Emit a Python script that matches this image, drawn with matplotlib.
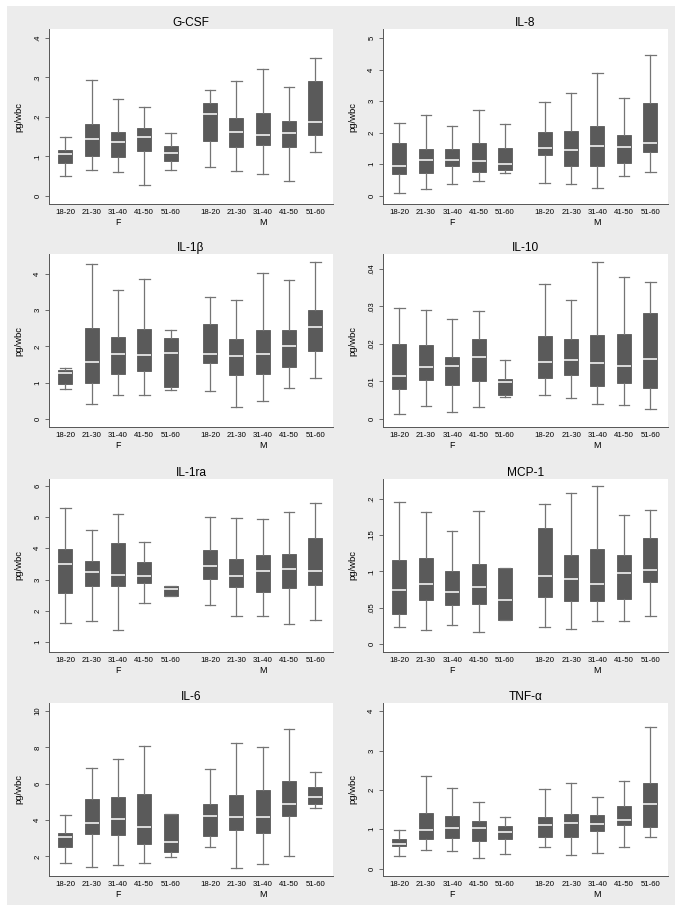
import matplotlib
matplotlib.use("Agg")
import matplotlib.pyplot as plt
from matplotlib.patches import Rectangle

plt.rcParams['font.family'] = ['Liberation Sans', 'DejaVu Sans']

AGE_GROUPS = ["18-20", "21-30", "31-40", "41-50", "51-60"]
SEXES = ["F", "M"]

# rows: lower whisker, Q1, median, Q3, upper whisker
# order: F 18-20 .. F 51-60, M 18-20 .. M 51-60
G_CSF = [[.050, .082, .107, .116, .148], [.064, .102, .145, .181, .293],
         [.060, .099, .137, .161, .246], [.028, .113, .150, .173, .224],
         [.066, .088, .109, .126, .160], [.074, .140, .208, .236, .267],
         [.062, .123, .161, .198, .292], [.054, .128, .153, .210, .321],
         [.038, .123, .160, .190, .277], [.112, .154, .188, .292, .349]]
IL_8 = [[.10, .68, .96, 1.69, 2.32], [.22, .71, 1.15, 1.50, 2.56],
        [.37, .93, 1.12, 1.47, 2.20], [.48, .77, 1.10, 1.68, 2.73],
        [.71, .83, 1.01, 1.53, 2.29], [.40, 1.28, 1.53, 2.03, 2.98],
        [.39, .93, 1.44, 2.07, 3.25], [.24, .96, 1.58, 2.20, 3.88],
        [.64, 1.03, 1.54, 1.94, 3.10], [.77, 1.39, 1.68, 2.93, 4.48]]
IL_1B = [[.83, .97, 1.27, 1.35, 1.39], [.41, 1.00, 1.57, 2.51, 4.27],
         [.67, 1.23, 1.80, 2.25, 3.56], [.67, 1.33, 1.77, 2.47, 3.86],
         [.81, .87, 1.82, 2.23, 2.46], [.76, 1.54, 1.80, 2.62, 3.35],
         [.33, 1.20, 1.72, 2.19, 3.28], [.50, 1.24, 1.79, 2.44, 4.03],
         [.84, 1.42, 2.02, 2.44, 3.83], [1.12, 1.88, 2.54, 2.99, 4.33]]
IL_10 = [[.0013, .0080, .0114, .0199, .0295], [.0034, .0104, .0139, .0198, .0290],
         [.0018, .0090, .0140, .0164, .0266], [.0032, .0102, .0164, .0212, .0288],
         [.0060, .0063, .0098, .0107, .0158], [.0065, .0110, .0153, .0220, .0359],
         [.0057, .0118, .0157, .0212, .0316], [.0041, .0089, .0148, .0223, .0417],
         [.0037, .0097, .0140, .0225, .0377], [.0028, .0082, .0159, .0281, .0365]]
IL_1RA = [[1.62, 2.58, 3.50, 3.97, 5.30], [1.69, 2.80, 3.23, 3.58, 4.57],
          [1.38, 2.80, 3.16, 4.18, 5.08], [2.26, 2.90, 3.10, 3.57, 4.19],
          [2.49, 2.49, 2.70, 2.81, 2.81], [2.19, 3.02, 3.43, 3.93, 4.99],
          [1.83, 2.77, 3.10, 3.67, 4.97], [1.84, 2.61, 3.27, 3.80, 4.92],
          [1.59, 2.74, 3.33, 3.81, 5.17], [1.70, 2.82, 3.29, 4.33, 5.43]]
MCP_1 = [[.023, .041, .074, .116, .196], [.019, .061, .082, .118, .181],
         [.026, .053, .071, .100, .155], [.016, .055, .079, .110, .183],
         [.033, .033, .060, .104, .104], [.024, .065, .094, .160, .192],
         [.021, .059, .090, .123, .208], [.031, .059, .082, .131, .217],
         [.031, .062, .098, .123, .177], [.038, .085, .102, .146, .184]]
IL_6 = [[1.63, 2.50, 3.05, 3.31, 4.30], [1.40, 3.23, 3.84, 5.17, 6.88],
        [1.54, 3.17, 4.08, 5.24, 7.36], [1.62, 2.70, 3.62, 5.42, 8.10],
        [1.98, 2.25, 2.80, 4.34, 4.34], [2.53, 3.13, 4.23, 4.90, 6.80],
        [1.35, 3.47, 4.18, 5.40, 8.24], [1.60, 3.27, 4.16, 5.68, 8.04],
        [2.00, 4.24, 4.88, 6.17, 9.02], [4.66, 4.87, 5.29, 5.83, 6.66]]
TNF_A = [[.33, .57, .63, .76, .97], [.47, .76, .98, 1.40, 2.35],
         [.45, .77, 1.02, 1.33, 2.05], [.28, .71, 1.02, 1.21, 1.69],
         [.38, .76, .92, 1.09, 1.31], [.55, .81, 1.10, 1.31, 2.03],
         [.34, .79, 1.17, 1.38, 2.17], [.40, .95, 1.14, 1.36, 1.82],
         [.55, 1.10, 1.23, 1.60, 2.22], [.80, 1.05, 1.64, 2.17, 3.59]]

PANELS = [("G-CSF", G_CSF), ("IL-8", IL_8), ("IL-1β", IL_1B), ("IL-10", IL_10),
          ("IL-1ra", IL_1RA), ("MCP-1", MCP_1), ("IL-6", IL_6), ("TNF-α", TNF_A)]

# y range, tick values, tick labels
Y_AXES = {
    "G-CSF": ((-0.021, 0.423), [0, .1, .2, .3, .4], ["0", ".1", ".2", ".3", ".4"]),
    "IL-8": ((-0.26, 5.29), [0, 1, 2, 3, 4, 5], ["0", "1", "2", "3", "4", "5"]),
    "IL-1β": ((-0.22, 4.54), [0, 1, 2, 3, 4], ["0", "1", "2", "3", "4"]),
    "IL-10": ((-0.0021, 0.0439), [0, .01, .02, .03, .04], ["0", ".01", ".02", ".03", ".04"]),
    "IL-1ra": ((0.69, 6.21), [1, 2, 3, 4, 5, 6], ["1", "2", "3", "4", "5", "6"]),
    "MCP-1": ((-0.011, 0.227), [0, .05, .1, .15, .2], ["0", ".05", ".1", ".15", ".2"]),
    "IL-6": ((0.92, 10.44), [2, 4, 6, 8, 10], ["2", "4", "6", "8", "10"]),
    "TNF-α": ((-0.19, 4.21), [0, 1, 2, 3, 4], ["0", "1", "2", "3", "4"]),
}

W, H = 683, 911
COL_X = [(49, 333), (383, 668)]
ROW_Y = [(29, 204), (254, 427), (479, 652), (703, 876)]
BG = "#ececec"
BOX = "#5a5a5a"
LINE = "#747474"

fig = plt.figure(figsize=(W / 100, H / 100), dpi=100, facecolor="white")
fig.add_artist(Rectangle((7 / W, 6 / H), 668 / W, 899 / H, transform=fig.transFigure,
                         facecolor=BG, edgecolor="none", zorder=-5))

positions = [0, 1, 2, 3, 4, 5.5, 6.5, 7.5, 8.5, 9.5]

for i, (title, data) in enumerate(PANELS):
    x0, x1 = COL_X[i % 2]
    top, bottom = ROW_Y[i // 2]
    ax = fig.add_axes([x0 / W, 1 - bottom / H, (x1 - x0) / W, (bottom - top) / H])
    ax.set_facecolor("white")

    stats = [dict(whislo=r[0], q1=r[1], med=r[2], q3=r[3], whishi=r[4], fliers=[])
             for r in data]
    ax.bxp(stats, positions=positions, widths=0.53, capwidths=0.4, showfliers=False,
           patch_artist=True,
           boxprops=dict(facecolor=BOX, edgecolor=BOX, linewidth=0.6),
           medianprops=dict(color="white", linewidth=1.1),
           whiskerprops=dict(color=LINE, linewidth=0.9),
           capprops=dict(color=LINE, linewidth=0.9))

    ylim, yt, ytl = Y_AXES[title]
    ax.set_ylim(*ylim)
    ax.set_xlim(-0.62, 10.17)
    ax.set_yticks(yt, ytl)
    ax.tick_params(axis="y", labelrotation=90, labelsize=5.6, length=3, width=0.6,
                   color="#555555", pad=2.5)
    ax.set_xticks(positions, AGE_GROUPS * 2)
    ax.tick_params(axis="x", labelsize=5.6, length=0, pad=3.5)
    for lab in ax.get_yticklabels():
        lab.set_va("center")

    for s in ("top", "right"):
        ax.spines[s].set_visible(False)
    for s in ("left", "bottom"):
        ax.spines[s].set_color("#555555")
        ax.spines[s].set_linewidth(0.7)

    ax.set_ylabel("pg/wbc", fontsize=6.8)
    ax.yaxis.set_label_coords(-26 / (x1 - x0), 0.5)
    ax.set_title(title, fontsize=8.6, pad=2.5)

    for j, sex in enumerate(SEXES):
        ax.text(sum(positions[j * 5:j * 5 + 5]) / 5, -0.105, sex, fontsize=6.4,
                ha="center", va="center", transform=ax.get_xaxis_transform())

fig.savefig("out.png", dpi=100, facecolor="white")
